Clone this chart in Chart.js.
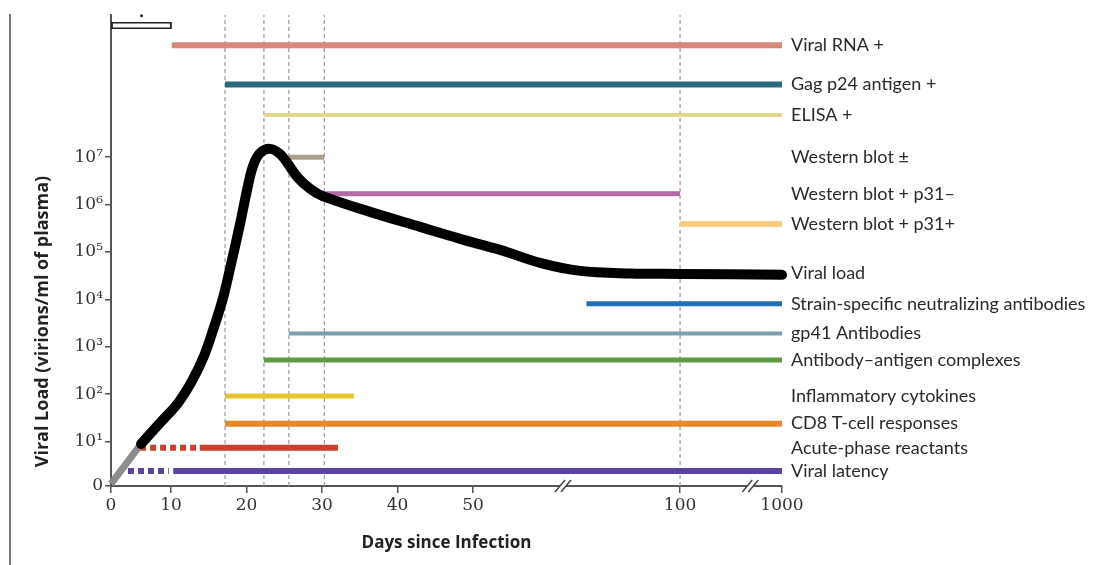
<!DOCTYPE html>
<html>
<head>
<meta charset="utf-8">
<script src="https://cdn.jsdelivr.net/npm/chart.js@4/dist/chart.umd.min.js"></script>
<style>
  body { margin: 0; background: #fff; }
  #marco { position: absolute; left: 9px; top: 14px; width: 0; height: 551px; border-left: 2px solid #777; }
  #caja { position: absolute; left: 0; top: 0; width: 1097px; height: 565px; }
</style>
</head>
<body>
<div id="marco"></div>
<div id="caja"><canvas id="grafico"></canvas></div>
<script>
// eje x: posiciones en el eje (la escala esta cortada despues de 50)
const xTickPos = [2.05, 10, 20, 30, 40, 50, 77.4, 90.9]
const xTickLabels = ['0', '10', '20', '30', '40', '50', '100', '1000']
const xBreaks = [61.9, 86.7]

// eje y: carga viral (logaritmico)
const yTickVals = [1.16, 1e1, 1e2, 1e3, 1e4, 1e5, 1e6, 1e7]
const yTickLabels = ['0', '10¹', '10²', '10³', '10⁴', '10⁵', '10⁶', '10⁷']

// curva de carga viral
const greyX = [2.05, 6.03]
const greyY = [1.28, 8.95]
const loadX = [6.03, 8.54, 10.93, 12.78, 14.37, 15.70, 16.89, 17.95, 19.14, 20.07, 20.86, 21.79, 23.11, 24.44, 25.5, 26.82, 28.41, 30.0, 36.36, 42.98, 48.28, 53.58, 58.87, 64.17, 70.8, 77.4, 90.9]
const loadY = [8.95, 24.8, 65.6, 191, 644, 2630, 10800, 56200, 3.92e5, 2.05e6, 6.56e6, 1.23e7, 1.50e7, 1.17e7, 7.2e6, 3.66e6, 2.15e6, 1.53e6, 7.03e5, 3.39e5, 1.89e5, 1.11e5, 5.9e4, 4.0e4, 3.54e4, 3.46e4, 3.30e4]

// filas de marcadores (etiqueta a la derecha)
const rowLabels = ['Viral RNA +', 'Gag p24 antigen +', 'ELISA +', 'Western blot ±', 'Western blot + p31–', 'Western blot + p31+', 'Viral load', 'Strain-specific neutralizing antibodies', 'gp41 Antibodies', 'Antibody–antigen complexes', 'Inflammatory cytokines', 'CD8 T-cell responses', 'Acute-phase reactants', 'Viral latency']
const rowLevel = [2.3e9, 3.4e8, 7.8e7, 1.0e7, 1.7e6, 3.9e5, 3.6e4, 8.1e3, 1.9e3, 530, 92, 24, 7.4, 2.4]
const barStart = [10.1, 17.15, 22.3, 25.6, 30.3, 77.4, null, 65.0, 25.6, 22.3, 17.15, 17.15, 13.8, 10.3]
const barEnd = [90.9, 90.9, 90.9, 30.3, 77.4, 90.9, null, 90.9, 90.9, 90.9, 34.2, 90.9, 32.1, 90.9]
const dashStart = [null, null, null, null, null, null, null, null, null, null, null, null, 5.9, 4.3]
const dashEnd = [null, null, null, null, null, null, null, null, null, null, null, null, 13.4, 9.7]

// lineas verticales punteadas
const markerX = [17.15, 22.3, 25.6, 30.3, 77.4]

// estilos
const barColors = ['#d5887a', '#2a687c', '#e5d88e', '#aba08b', '#b46aa6', '#f8cd80', null, '#1f70b8', '#7b9fad', '#5f9b40', '#e8c52f', '#e6892b', '#c9412d', '#5b43a0']
const barWidths = [6, 6, 4, 5, 5, 6, 0, 5, 4, 5, 5, 6, 6, 6]

const yMin = 1.16
const yMax = 1e10

function linea(x0, x1, y0, y1, color, ancho, dash) {
    return {
        data: [{x: x0, y: y0}, {x: x1, y: y1}],
        borderColor: color,
        borderWidth: ancho,
        borderDash: dash || [],
        borderCapStyle: 'butt',
        pointRadius: 0,
        clip: false,
        tension: 0
    }
}

// sin relleno extra para las etiquetas de los extremos
function sinRelleno(s) {
    s.paddingTop = 0
    s.paddingBottom = 0
    s.paddingLeft = 0
    s.paddingRight = 0
}

const datasets = []

// curva primero para que quede encima
datasets.push({
    data: loadX.map((x, i) => ({x: x, y: loadY[i]})),
    borderColor: '#000',
    borderWidth: 10,
    borderCapStyle: 'round',
    borderJoinStyle: 'round',
    tension: 0.35,
    pointRadius: 0,
    clip: false
})
datasets.push({
    data: greyX.map((x, i) => ({x: x, y: greyY[i]})),
    borderColor: '#8c8c8c',
    borderWidth: 7,
    borderCapStyle: 'butt',
    pointRadius: 0,
    clip: false
})

// caja blanca de arriba a la izquierda y punto
datasets.push(linea(2.3, 9.85, 6.0e9, 6.0e9, '#fff', 4))
datasets.push(linea(2.05, 10.1, 6.0e9, 6.0e9, '#222', 7))
datasets.push({
    data: [{x: 6.1, y: 9.6e9}],
    pointRadius: 1.5,
    pointBackgroundColor: '#222',
    pointBorderWidth: 0,
    showLine: false,
    clip: false
})

for (let i = 0; i < rowLabels.length; i++) {
    if (barStart[i] !== null) {
        datasets.push(linea(barStart[i], barEnd[i], rowLevel[i], rowLevel[i], barColors[i], barWidths[i]))
    }
    if (dashStart[i] !== null) {
        datasets.push(linea(dashStart[i], dashEnd[i], rowLevel[i], rowLevel[i], barColors[i], barWidths[i], [6, 4]))
    }
}

for (const m of markerX) {
    datasets.push(linea(m, m, yMin, yMax, '#9a9a9a', 1.2, [4, 3]))
}

const cortes = {
    id: 'cortes',
    afterDraw(chart) {
        const ctx = chart.ctx
        const x = chart.scales.x
        const y0 = chart.chartArea.bottom
        ctx.save()
        for (const b of xBreaks) {
            const px = x.getPixelForValue(b)
            ctx.fillStyle = '#fff'
            ctx.fillRect(px - 3, y0 - 2, 6, 4)
            ctx.strokeStyle = '#444'
            ctx.lineWidth = 1.5
            for (const d of [-3, 3]) {
                ctx.beginPath()
                ctx.moveTo(px + d - 5, y0 + 6)
                ctx.lineTo(px + d + 5, y0 - 6)
                ctx.stroke()
            }
        }
        ctx.restore()
    }
}

const ejeColor = '#555'
const fuenteNum = {family: 'DejaVu Serif', size: 17}

const config = {
    type: 'line',
    data: {datasets: datasets},
    options: {
        responsive: true,
        maintainAspectRatio: false,
        animation: false,
        layout: {padding: {top: 15, left: 0, right: 0, bottom: 0}},
        plugins: {legend: {display: false}, tooltip: {enabled: false}},
        scales: {
            x: {
                type: 'linear',
                min: xTickPos[0],
                max: xTickPos[xTickPos.length - 1],
                afterBuildTicks: s => { s.ticks = xTickPos.map(v => ({value: v})) },
                afterFit: s => { sinRelleno(s); s.height = 79 },
                ticks: {
                    autoSkip: false,
                    maxRotation: 0,
                    padding: 2,
                    color: '#333',
                    font: fuenteNum,
                    callback: (v, i) => xTickLabels[i]
                },
                grid: {drawOnChartArea: false, drawTicks: true, tickLength: 7, color: ejeColor, lineWidth: 1.5},
                border: {display: true, color: ejeColor, width: 2},
                title: {
                    display: true,
                    text: 'Days since Infection',
                    color: '#222',
                    font: {family: 'Open Sans', size: 17, weight: 'bold'},
                    padding: {top: 0, bottom: 12}
                }
            },
            y: {
                type: 'logarithmic',
                position: 'left',
                min: yMin,
                max: yMax,
                afterBuildTicks: s => { s.ticks = yTickVals.map(v => ({value: v})) },
                afterFit: s => { sinRelleno(s); s.width = 111 },
                ticks: {
                    autoSkip: false,
                    padding: 2,
                    color: '#333',
                    font: fuenteNum,
                    callback: (v, i) => yTickLabels[i]
                },
                grid: {drawOnChartArea: false, drawTicks: true, tickLength: 6, color: ejeColor, lineWidth: 1.5},
                border: {display: true, color: ejeColor, width: 2},
                title: {
                    display: true,
                    align: 'start',
                    text: '    Viral Load (virions/ml of plasma)',
                    color: '#222',
                    font: {family: 'Open Sans', size: 18, weight: 'bold'},
                    padding: {top: 32, bottom: 0}
                }
            },
            yR: {
                type: 'logarithmic',
                position: 'right',
                min: yMin,
                max: yMax,
                afterBuildTicks: s => { s.ticks = rowLevel.map(v => ({value: v})) },
                afterFit: s => { sinRelleno(s); s.width = 315 },
                ticks: {
                    autoSkip: false,
                    padding: 9,
                    color: '#2a2a2a',
                    font: {family: 'Lato', size: 18},
                    callback: (v, i) => rowLabels[i]
                },
                grid: {display: false, drawTicks: false},
                border: {display: false}
            }
        }
    },
    plugins: [cortes]
}

const myChart = new Chart(document.getElementById('grafico'), config)
</script>
</body>
</html>
